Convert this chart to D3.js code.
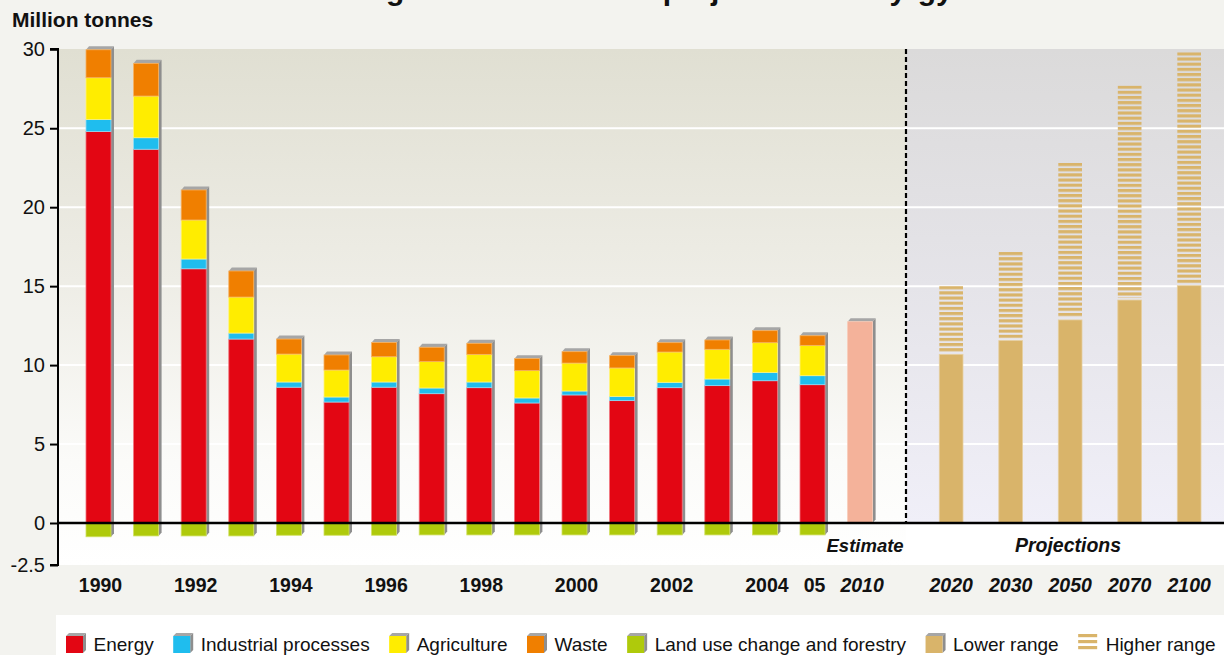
<!DOCTYPE html>
<html>
<head>
<meta charset="utf-8">
<script src="https://cdn.jsdelivr.net/npm/d3@7"></script>
<style>
  html, body { margin: 0; padding: 0; background: #f3f3ef; }
  svg { display: block; font-family: "Liberation Sans", Arial, sans-serif; }
</style>
</head>
<body>
<svg id="chart" width="1224" height="655"></svg>
<script>
// ---------- DATA ----------
const years = ["1990","1991","1992","1993","1994","1995","1996","1997","1998","1999","2000","2001","2002","2003","2004","2005","2010"];
const yearLabels = ["1990","","1992","","1994","","1996","","1998","","2000","","2002","","2004","05","2010"];
const histYears = years.slice(0, 16);
const energy      = [24.8, 23.67, 16.1, 11.65, 8.6, 7.66, 8.6, 8.19, 8.57, 7.6, 8.11, 7.75, 8.57, 8.7, 9.01, 8.76];
const industrial  = [0.76, 0.73, 0.62, 0.38, 0.33, 0.32, 0.33, 0.36, 0.36, 0.32, 0.25, 0.27, 0.34, 0.42, 0.53, 0.57];
const agriculture = [2.64, 2.64, 2.47, 2.28, 1.77, 1.71, 1.6, 1.67, 1.75, 1.73, 1.77, 1.8, 1.92, 1.88, 1.88, 1.92];
const waste       = [1.77, 2.07, 1.9, 1.65, 0.95, 0.95, 0.9, 0.91, 0.7, 0.76, 0.72, 0.78, 0.59, 0.59, 0.76, 0.61];
const landUse     = [-0.82, -0.77, -0.77, -0.77, -0.73, -0.73, -0.73, -0.71, -0.71, -0.71, -0.71, -0.71, -0.71, -0.71, -0.71, -0.71];
const estimateYear = "2010";
const estimateValue = 12.75;
const projYears   = ["2020","2030","2050","2070","2100"];
const lowerRange  = [10.68, 11.55, 12.86, 14.12, 15.03];
const higherRange = [15.0, 17.16, 22.8, 27.7, 29.81];
const yTicks = [-2.5, 0, 5, 10, 15, 20, 25, 30];
const seriesNames = ["Energy","Industrial processes","Agriculture","Waste"];
const legendNames = ["Energy","Industrial processes","Agriculture","Waste","Land use change and forestry","Lower range","Higher range"];
const titleText = "Greenhouse gas emissions and projections in Kyrgyzstan";
const yAxisTitle = "Million tonnes";

// ---------- STYLE ----------
const colors = {
  "Energy": "#e30613",
  "Industrial processes": "#1fbdee",
  "Agriculture": "#ffed00",
  "Waste": "#f07f00",
  "Land use change and forestry": "#afca0b",
  "Estimate": "#f4b29a",
  "Lower range": "#d9b46a",
  "Higher range": "#d9b46a"
};
const edge = {
  "Energy": "#f0707a",
  "Industrial processes": "#8fdcf6",
  "Agriculture": "#fff37a",
  "Waste": "#f5b060",
  "Land use change and forestry": "#d0e060"
};

const svg = d3.select("#chart");
const W = 1224, H = 655;
const plotLeft = 58, plotRight = 1224, plotTop = 49, plotBottom = 565, dividerX = 906;

const y = d3.scaleLinear().domain([-2.5, 0, 30]).range([565, 523, 49.3]);
const x = d3.scaleBand().domain(years).range([86, 872.6]).paddingInner(0.475).paddingOuter(0);
const xp = d3.scaleBand().domain(projYears).range([939.3, 1201]).paddingInner(0.602).paddingOuter(0);

const defs = svg.append("defs");
const gl = defs.append("linearGradient").attr("id","bgL").attr("gradientUnits","userSpaceOnUse")
  .attr("x1",0).attr("x2",0).attr("y1",plotTop).attr("y2",plotBottom);
gl.append("stop").attr("offset",0).attr("stop-color","#e0dfd2");
gl.append("stop").attr("offset",0.45).attr("stop-color","#eeede6");
gl.append("stop").attr("offset",0.8).attr("stop-color","#fbfbf9");
gl.append("stop").attr("offset",1).attr("stop-color","#ffffff");
const gr = defs.append("linearGradient").attr("id","bgR").attr("gradientUnits","userSpaceOnUse")
  .attr("x1",0).attr("x2",0).attr("y1",plotTop).attr("y2",y(0));
gr.append("stop").attr("offset",0).attr("stop-color","#dbdada");
gr.append("stop").attr("offset",0.5).attr("stop-color","#e5e4e9");
gr.append("stop").attr("offset",1).attr("stop-color","#f0eff8");

// page background
svg.append("rect").attr("width",W).attr("height",H).attr("fill","#f3f3ef");

// title (cut at top as in the reference)
svg.append("text").attr("x", 616).attr("y", -0.5).attr("text-anchor","middle")
  .attr("font-size", 30).attr("font-weight","bold").attr("fill","#111").text(titleText);

svg.append("text").attr("x", 12).attr("y", 27).attr("font-size", 21).attr("font-weight","bold")
  .attr("fill","#111").text(yAxisTitle);

// plot backgrounds
svg.append("rect").attr("x",plotLeft).attr("y",plotTop).attr("width",dividerX-plotLeft).attr("height",plotBottom-plotTop).attr("fill","url(#bgL)");
svg.append("rect").attr("x",dividerX).attr("y",plotTop).attr("width",plotRight-dividerX).attr("height",y(0)-plotTop).attr("fill","url(#bgR)");
svg.append("rect").attr("x",dividerX).attr("y",y(0)).attr("width",plotRight-dividerX).attr("height",plotBottom-y(0)).attr("fill","#ffffff");

// gridlines
svg.append("g").selectAll("line").data(yTicks.filter(d => d > 0 && d < 30)).join("line")
  .attr("x1",plotLeft).attr("x2",plotRight).attr("y1",d=>y(d)).attr("y2",d=>y(d))
  .attr("stroke","#ffffff").attr("stroke-width",2);

// ---------- BARS ----------
const dx = 3, dy = 3.5;
function shade3d(g, x0, w, yTop, yBot, topFace) {
  if (topFace) {
    g.append("polygon")
      .attr("points", [[x0, yTop],[x0+dx, yTop-dy],[x0+w+dx, yTop-dy],[x0+w, yTop]].join(" "))
      .attr("fill","#a6a6a6");
  }
  g.append("polygon")
    .attr("points", [[x0+w, yTop],[x0+w+dx, yTop-dy],[x0+w+dx, yBot-dy],[x0+w, yBot]].join(" "))
    .attr("fill","#8e8e8e");
}

const histData = histYears.map((yr, i) => ({
  year: yr,
  "Energy": energy[i],
  "Industrial processes": industrial[i],
  "Agriculture": agriculture[i],
  "Waste": waste[i],
  landUse: landUse[i]
}));
const stacked = d3.stack().keys(seriesNames)(histData);

const barsG = svg.append("g");
histData.forEach((d, i) => {
  const g = barsG.append("g");
  const x0 = x(d.year), w = x.bandwidth();
  const total = stacked[stacked.length-1][i][1];
  shade3d(g, x0, w, y(total), y(d.landUse), true);
  g.append("rect").attr("x",x0).attr("width",w).attr("y",y(0)).attr("height",y(d.landUse)-y(0))
    .attr("fill",colors["Land use change and forestry"]).attr("stroke",edge["Land use change and forestry"]).attr("stroke-width",0.8);
  stacked.forEach(s => {
    const seg = s[i];
    g.append("rect").attr("x",x0).attr("width",w).attr("y",y(seg[1])).attr("height",y(seg[0])-y(seg[1]))
      .attr("fill",colors[s.key]).attr("stroke",edge[s.key]).attr("stroke-width",0.8);
  });
});

// estimate bar
{
  const g = barsG.append("g");
  const x0 = x(estimateYear), w = x.bandwidth();
  shade3d(g, x0, w, y(estimateValue), y(0), true);
  g.append("rect").attr("x",x0).attr("width",w).attr("y",y(estimateValue)).attr("height",y(0)-y(estimateValue))
    .attr("fill",colors["Estimate"]).attr("stroke","#f8cbb8").attr("stroke-width",0.8);
}

// projections
const stripeH = 5.17;
projYears.forEach((yr, i) => {
  const x0 = xp(yr), w = xp.bandwidth();
  const pid = "stripe" + i;
  const pat = defs.append("pattern").attr("id",pid).attr("patternUnits","userSpaceOnUse")
    .attr("x",0).attr("y",y(higherRange[i])).attr("width",10).attr("height",stripeH);
  pat.append("rect").attr("x",0).attr("y",0).attr("width",10).attr("height",3.1).attr("fill",colors["Higher range"]);
  barsG.append("rect").attr("x",x0).attr("width",w).attr("y",y(higherRange[i]))
    .attr("height", y(lowerRange[i]) - y(higherRange[i]) - 2).attr("fill","url(#"+pid+")");
  barsG.append("rect").attr("x",x0).attr("width",w).attr("y",y(lowerRange[i])).attr("height",y(0)-y(lowerRange[i]))
    .attr("fill",colors["Lower range"]).attr("stroke","#e6cf9f").attr("stroke-width",0.8);
});

// divider
svg.append("line").attr("x1",dividerX).attr("x2",dividerX).attr("y1",plotTop).attr("y2",y(0))
  .attr("stroke","#000").attr("stroke-width",2.2).attr("stroke-dasharray","5,3");

// zero line
svg.append("line").attr("x1",plotLeft).attr("x2",plotRight).attr("y1",y(0)).attr("y2",y(0))
  .attr("stroke","#000").attr("stroke-width",2.5);

// y axis
const yAxis = d3.axisLeft(y).tickValues(yTicks).tickSize(8).tickPadding(5)
  .tickFormat(d => d === -2.5 ? "-2.5" : d3.format("d")(d));
const yg = svg.append("g").attr("transform",`translate(${plotLeft},0)`).call(yAxis);
yg.select(".domain").attr("stroke","#000").attr("stroke-width",2).attr("d",`M-8,${y(-2.5)}H0V${plotTop}H-8`);
yg.selectAll(".tick line").attr("stroke","#000").attr("stroke-width",2);
yg.selectAll(".tick text").attr("font-size",20).attr("fill","#111").attr("font-family","Liberation Sans, Arial, sans-serif");

// x labels
const xAxis = d3.axisBottom(x).tickSize(0).tickFormat((d, i) => yearLabels[i]);
const xg = svg.append("g").attr("transform",`translate(2,${plotBottom})`).call(xAxis);
xg.select(".domain").remove();
xg.selectAll(".tick text").attr("font-size",19.5).attr("font-weight","bold").attr("fill","#111")
  .attr("font-family","Liberation Sans, Arial, sans-serif").attr("dy", 0).attr("y", 27)
  .attr("font-style", d => d === estimateYear ? "italic" : "normal");
const xpAxis = d3.axisBottom(xp).tickSize(0);
const xpg = svg.append("g").attr("transform",`translate(0,${plotBottom})`).call(xpAxis);
xpg.select(".domain").remove();
xpg.selectAll(".tick text").attr("font-size",19.5).attr("font-weight","bold").attr("font-style","italic")
  .attr("fill","#111").attr("font-family","Liberation Sans, Arial, sans-serif").attr("dy",0).attr("y",27);

// section labels
svg.append("text").attr("x", x(estimateYear) + x.bandwidth()/2 + 5).attr("y", 552).attr("text-anchor","middle")
  .attr("font-size",18.5).attr("font-weight","bold").attr("font-style","italic").attr("fill","#111").text("Estimate");
svg.append("text").attr("x", (dividerX + plotRight)/2 + 3).attr("y", 552).attr("text-anchor","middle")
  .attr("font-size",19.5).attr("font-weight","bold").attr("font-style","italic").attr("fill","#111").text("Projections");

// ---------- LEGEND ----------
svg.append("rect").attr("x",56).attr("y",615).attr("width",W-56).attr("height",40).attr("fill","#ffffff");
const lg = svg.append("g");
let lx = 66;
const sw = 17, sTop = 636;
legendNames.forEach(name => {
  const g = lg.append("g");
  if (name === "Higher range") {
    [0, 6, 12].forEach(o => g.append("rect").attr("x",lx).attr("y",sTop - 2 + o).attr("width",19).attr("height",3.2).attr("fill",colors[name]));
  } else {
    g.append("polygon").attr("points",[[lx,sTop],[lx+3,sTop-3],[lx+sw+3,sTop-3],[lx+sw,sTop]].join(" ")).attr("fill","#a6a6a6");
    g.append("polygon").attr("points",[[lx+sw,sTop],[lx+sw+3,sTop-3],[lx+sw+3,sTop+sw-3],[lx+sw,sTop+sw]].join(" ")).attr("fill","#8e8e8e");
    g.append("rect").attr("x",lx).attr("y",sTop).attr("width",sw).attr("height",sw).attr("fill",colors[name]);
  }
  const t = g.append("text").attr("x", lx + 27.5).attr("y", 651).attr("font-size",19).attr("fill","#111").text(name);
  lx = lx + 27.5 + t.node().getComputedTextLength() + 19.5;
});
</script>
</body>
</html>
